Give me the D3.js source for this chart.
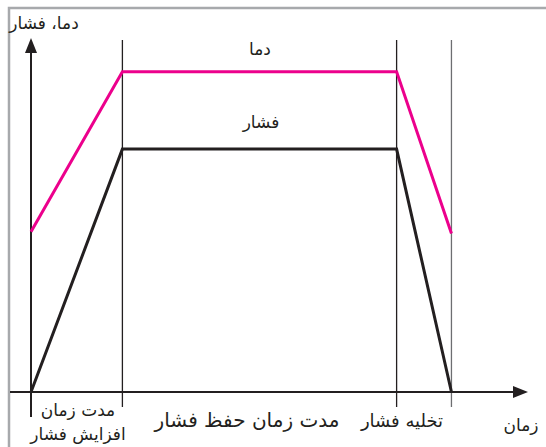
<!DOCTYPE html>
<html>
<head>
<meta charset="utf-8">
<script src="https://cdn.jsdelivr.net/npm/d3@7"></script>
<style>
  body { margin: 0; background: #fff; }
  svg { display: block; font-family: "DejaVu Sans", "Noto Sans", sans-serif; }
</style>
</head>
<body>
<div id="chart"></div>
<script>
// زمان (واحد نسبی) و مقادیر
var times = [0, 1, 4, 4.6];
var pressure = [0, 69, 69, 0];
var temperature = [45.5, 91, 91, 45];
var stageBounds = [1, 4, 4.6];
var seriesNames = ["دما", "فشار"];
var yAxisTitle = "دما، فشار";
var xAxisTitle = "زمان";
var stageLabels = [
    { lines: ["مدت زمان", "افزایش فشار"], cx: 78, y: 416, size: 17 },
    { lines: ["مدت زمان حفظ فشار"], cx: 247, y: 427, size: 20 },
    { lines: ["تخلیه فشار"], cx: 402, y: 427, size: 18 }
];

document.addEventListener("DOMContentLoaded", function() {
    var width = 546, height = 447;

    var svg = d3.select("#chart")
        .append("svg")
        .attr("width", width)
        .attr("height", height);

    var x = d3.scaleLinear().domain([0, 5.35]).range([31, 520]);
    var y = d3.scaleLinear().domain([0, 100]).range([392, 40]);

    // قاب خاکستری
    svg.append("rect")
        .attr("x", 9).attr("y", 8)
        .attr("width", 600).attr("height", 500)
        .attr("fill", "none")
        .attr("stroke", "#a7a9ac")
        .attr("stroke-width", 2.5);

    // خطوط عمودی مراحل
    svg.selectAll(".stage")
        .data(stageBounds)
        .enter()
        .append("line")
        .attr("x1", d => x(d)).attr("x2", d => x(d))
        .attr("y1", 40).attr("y2", 407)
        .attr("stroke", (d, i) => i == 2 ? "#6d6e71" : "#231f20")
        .attr("stroke-width", 1.3);

    // محورها
    svg.append("line")
        .attr("x1", 10).attr("x2", 518)
        .attr("y1", y(0)).attr("y2", y(0))
        .attr("stroke", "#231f20").attr("stroke-width", 2);
    svg.append("path")
        .attr("d", `M528,${y(0)} L513,${y(0) - 6} L513,${y(0) + 6} Z`)
        .attr("fill", "#231f20");

    svg.append("line")
        .attr("x1", x(0)).attr("x2", x(0))
        .attr("y1", 417).attr("y2", 48)
        .attr("stroke", "#231f20").attr("stroke-width", 2);
    svg.append("path")
        .attr("d", `M${x(0)},38 L${x(0) - 6},53 L${x(0) + 6},53 Z`)
        .attr("fill", "#231f20");

    var line = d3.line()
        .x((d, i) => x(times[i]))
        .y(d => y(d));

    svg.append("path")
        .datum(temperature)
        .attr("d", line)
        .attr("fill", "none")
        .attr("stroke", "#ec008c")
        .attr("stroke-width", 3);

    svg.append("path")
        .datum(pressure)
        .attr("d", line)
        .attr("fill", "none")
        .attr("stroke", "#231f20")
        .attr("stroke-width", 3);

    // برچسب سری‌ها
    svg.append("text")
        .attr("x", 260).attr("y", 55)
        .attr("text-anchor", "middle")
        .attr("font-size", 17)
        .attr("fill", "#231f20")
        .text(seriesNames[0]);
    svg.append("text")
        .attr("x", 261).attr("y", 128)
        .attr("text-anchor", "middle")
        .attr("font-size", 17)
        .attr("fill", "#231f20")
        .text(seriesNames[1]);

    // عنوان محورها
    svg.append("text")
        .attr("x", 44).attr("y", 29)
        .attr("text-anchor", "middle")
        .attr("font-size", 17)
        .attr("fill", "#231f20")
        .text(yAxisTitle);
    svg.append("text")
        .attr("x", 521).attr("y", 431)
        .attr("text-anchor", "middle")
        .attr("font-size", 17)
        .attr("fill", "#231f20")
        .text(xAxisTitle);

    // برچسب مراحل
    stageLabels.forEach(function(s) {
        s.lines.forEach(function(t, i) {
            svg.append("text")
                .attr("x", s.cx).attr("y", s.y + i * 24)
                .attr("text-anchor", "middle")
                .attr("font-size", s.size)
                .attr("fill", "#231f20")
                .text(t);
        });
    });
});
</script>
</body>
</html>
